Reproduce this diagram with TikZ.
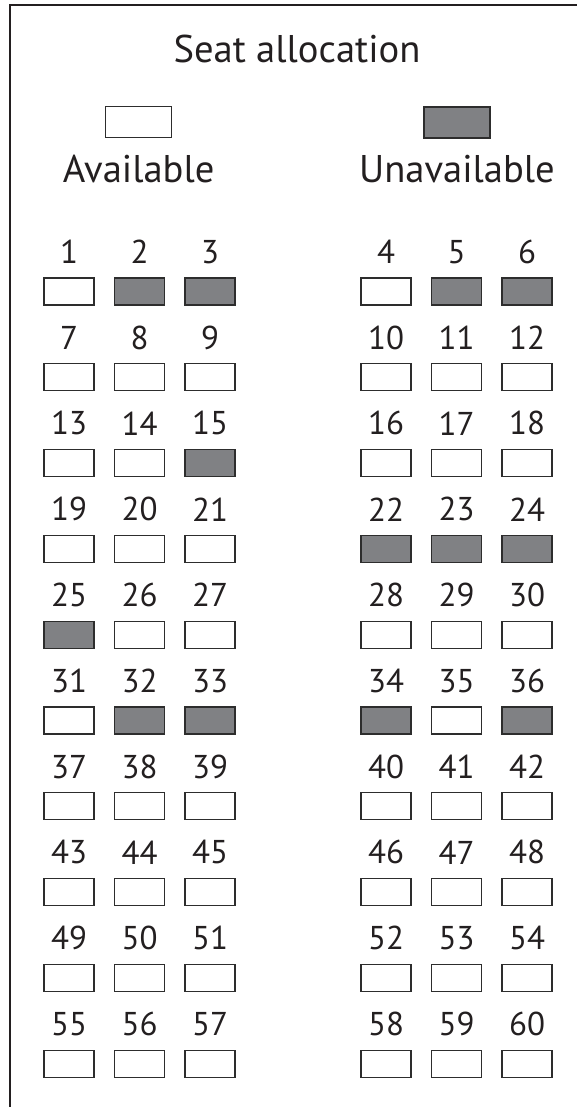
\documentclass[tikz,border=0pt]{standalone}
\usepackage{fontspec}
\setmainfont{PT Sans}
\usepackage{tikz}
\usetikzlibrary{positioning}
\definecolor{seatgrey}{RGB}{128,129,132}
\definecolor{seatline}{RGB}{45,45,45}
\definecolor{inkblack}{RGB}{35,31,32}

\tikzset{
  seat/.style={draw=seatline, line width=1.2pt, fill=white, minimum width=50pt, minimum height=27pt, inner sep=0pt},
  legendbox/.style={minimum width=66pt, minimum height=31pt},
  taken/.style={fill=seatgrey},
  seatnum/.style={inner sep=0pt, font=\fontsize{33}{34}\selectfont, text=inkblack},
  headtext/.style={inner sep=0pt, font=\fontsize{38.6}{40}\selectfont, text=inkblack},
  mark taken/.style={seat no #1/.style={taken}},
  mark taken/.list={2,3,5,6,15,22,23,24,25,32,33,34,36}
}

\begin{document}
\begin{tikzpicture}[x=1pt, y=-1pt]
\useasboundingbox (0,0) rectangle (577,1107);
% frame, cut off at the right and at the bottom
\draw[line width=2.5pt, inkblack] (10,1107) -- (10,5) -- (577,5);
\node[headtext, anchor=base] (heading) at (297,63) {Seat allocation};
% legend
\node[seat, legendbox] (availbox) at (138.7,122.3) {};
\node[seat, legendbox, taken] (unavailbox) at (457,122.5) {};
\node[headtext, below=16pt of availbox] (availtext) {Available};
\node[headtext, below=16pt of unavailbox] (unavailtext) {Unavailable};
% seats, six to a row
\foreach \r in {0,...,9} {
  \foreach \c/\xx in {1/69,2/139.5,3/210,4/386,5/456.5,6/527} {
    \pgfmathtruncatemacro{\n}{6*\r+\c}
    \node[seat, seat no \n/.try] (s\n) at (\xx,{291.5+85.8*\r}) {};
    \node[seatnum, above=13.5pt of s\n] (n\n) {\n};
  }
}
\end{tikzpicture}
\end{document}
